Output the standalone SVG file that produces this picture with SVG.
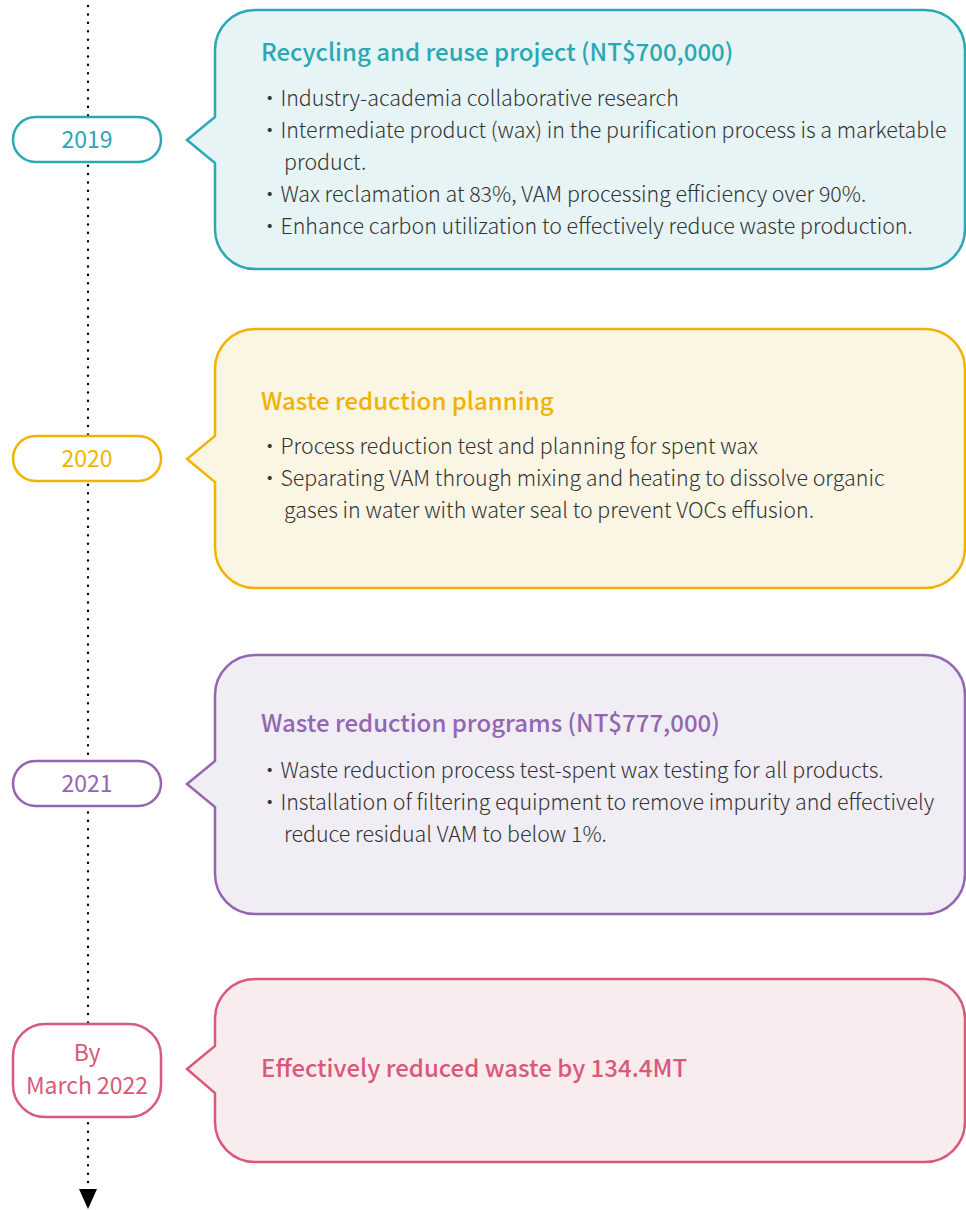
<svg xmlns="http://www.w3.org/2000/svg" width="966" height="1210" viewBox="0 0 966 1210">
<defs>
<style>
text{font-family:"Noto Sans CJK TC","Noto Sans",sans-serif;}
.t{font-size:24px;font-weight:500;}
.b{font-size:21.4px;fill:#333333;font-weight:300;}
.y{font-size:23px;text-anchor:middle;}
.pill{fill:#ffffff;stroke-width:2.5;}
.box{stroke-width:2.5;}
.teal{stroke:#2aa8b3;}
.tealF{fill:#2aa8b3;}
.yel{stroke:#f0b400;}
.yelF{fill:#f0b400;}
.pur{stroke:#9466b0;}
.purF{fill:#9466b0;}
.pnk{stroke:#d9597a;}
.pnkF{fill:#d9597a;}
</style>
</defs>
<g id="connectors">
<line x1="88" y1="6" x2="88" y2="1184" stroke="#000" stroke-width="2.4" stroke-dasharray="0.1 8.3" stroke-linecap="round"/>
<polygon points="79,1189 97,1189 88,1209" fill="#000"/>
</g>
<g id="node-2019">
<path class="box teal" fill="#e6f4f5" d="M255,10 H925 A40,40 0 0 1 965,50 V229 A40,40 0 0 1 925,269 H255 A40,40 0 0 1 215,229 V163 L187,140 L215,117 V50 A40,40 0 0 1 255,10 Z"/>
<rect class="pill teal" x="13" y="117" width="148" height="45" rx="22.5"/>
<text class="y tealF" x="87" y="148">2019</text>
<text class="t tealF" x="261" y="61">Recycling and reuse project (NT$700,000)</text>
<text class="b" x="259" y="106">・Industry-academia collaborative research</text>
<text class="b" x="259" y="138">・Intermediate product (wax) in the purification process is a marketable</text>
<text class="b" x="284" y="170">product.</text>
<text class="b" x="259" y="202">・Wax reclamation at 83%, VAM processing efficiency over 90%.</text>
<text class="b" x="259" y="234">・Enhance carbon utilization to effectively reduce waste production.</text>
</g>
<g id="node-2020">
<path class="box yel" fill="#fbf5e4" d="M255,329 H925 A40,40 0 0 1 965,369 V548 A40,40 0 0 1 925,588 H255 A40,40 0 0 1 215,548 V482 L187,459 L215,436 V369 A40,40 0 0 1 255,329 Z"/>
<rect class="pill yel" x="13" y="436" width="148" height="45" rx="22.5"/>
<text class="y yelF" x="87" y="467">2020</text>
<text class="t yelF" x="261" y="410">Waste reduction planning</text>
<text class="b" x="259" y="454">・Process reduction test and planning for spent wax</text>
<text class="b" x="259" y="486">・Separating VAM through mixing and heating to dissolve organic</text>
<text class="b" x="284" y="518">gases in water with water seal to prevent VOCs effusion.</text>
</g>
<g id="node-2021">
<path class="box pur" fill="#f0edf5" d="M255,655 H925 A40,40 0 0 1 965,695 V874 A40,40 0 0 1 925,914 H255 A40,40 0 0 1 215,874 V807 L187,784 L215,761 V695 A40,40 0 0 1 255,655 Z"/>
<rect class="pill pur" x="13" y="761" width="148" height="45" rx="22.5"/>
<text class="y purF" x="87" y="792">2021</text>
<text class="t purF" x="261" y="732">Waste reduction programs (NT$777,000)</text>
<text class="b" x="259" y="778">・Waste reduction process test-spent wax testing for all products.</text>
<text class="b" x="259" y="810">・Installation of filtering equipment to remove impurity and effectively</text>
<text class="b" x="284" y="842">reduce residual VAM to below 1%.</text>
</g>
<g id="node-2022">
<path class="box pnk" fill="#f9ecef" d="M255,979 H925 A40,40 0 0 1 965,1019 V1122 A40,40 0 0 1 925,1162 H255 A40,40 0 0 1 215,1122 V1093 L187,1069 L215,1046 V1019 A40,40 0 0 1 255,979 Z"/>
<rect class="pill pnk" x="13" y="1024" width="148" height="93" rx="32"/>
<text class="y pnkF" x="87" y="1061">By</text>
<text class="y pnkF" x="87" y="1094">March 2022</text>
<text class="t pnkF" x="261" y="1077">Effectively reduced waste by 134.4MT</text>
</g>
</svg>
